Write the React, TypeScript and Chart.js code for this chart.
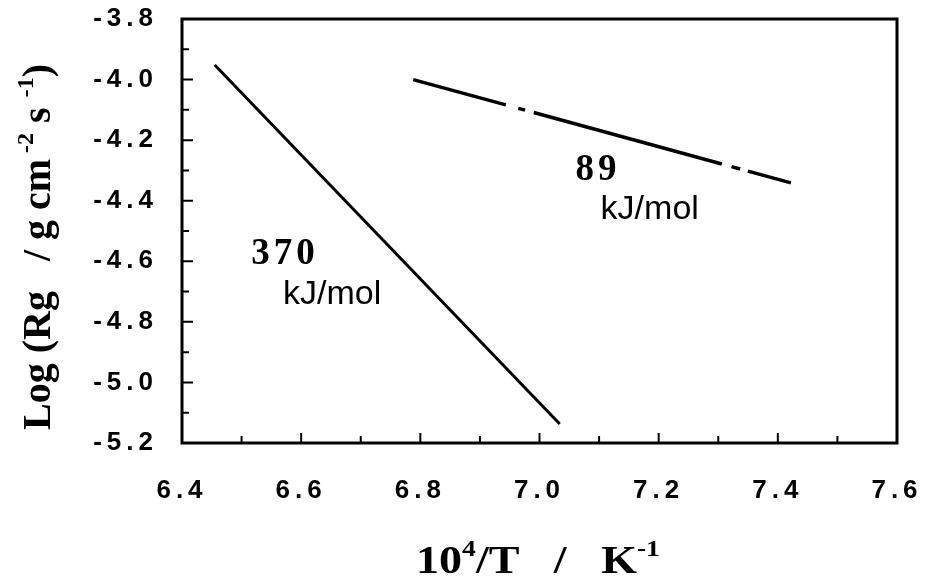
import React, { useEffect, useRef } from "react";
import { Chart, registerables } from "chart.js";

Chart.register(...registerables);

// ---- data ----
const steepX = [6.455, 7.034];
const steepY = [-3.952, -5.137];
const shallowX = [6.788, 7.422];
const shallowY = [-4.0, -4.341];

const xMin = 6.4;
const xMax = 7.6;
const yMin = -5.2;
const yMax = -3.8;
const tickStep = 0.1;

const annotTexts = ["370", "kJ/mol", "89", "kJ/mol"];
const annotX = [6.573, 6.652, 7.098, 7.185];
const annotY = [-4.579, -4.711, -4.299, -4.431];
const annotBold = [true, false, true, false];

const xTitleParts = [
  { t: "10", sup: false },
  { t: "4", sup: true },
  { t: "/T   /   K", sup: false },
  { t: "-1", sup: true },
];
const yTitleParts = [
  { t: "Log (Rg   / g cm", sup: false },
  { t: " -2", sup: true },
  { t: " s ", sup: false },
  { t: "-1", sup: true },
  { t: ")", sup: false },
];

const isMajor = (v: number) => Math.round(v * 10) % 2 === 0;

function drawRich(ctx: CanvasRenderingContext2D, parts: { t: string; sup: boolean }[], size: number) {
  const big = `bold ${size}px 'Liberation Serif', 'Times New Roman', serif`;
  const small = `bold ${Math.round(size * 0.6)}px 'Liberation Serif', 'Times New Roman', serif`;
  let total = 0;
  const widths: number[] = [];
  for (const p of parts) {
    ctx.font = p.sup ? small : big;
    const w = ctx.measureText(p.t).width;
    widths.push(w);
    total += w;
  }
  let x = -total / 2;
  ctx.textAlign = "left";
  ctx.textBaseline = "alphabetic";
  parts.forEach((p, i) => {
    ctx.font = p.sup ? small : big;
    ctx.fillText(p.t, x, p.sup ? -size * 0.42 : 0);
    x += widths[i];
  });
}

const framePlugin = {
  id: "frame",
  beforeDraw(chart: any) {
    (chart.ctx as any).letterSpacing = "5px";
  },
  afterDraw(chart: any) {
    const ctx: CanvasRenderingContext2D = chart.ctx;
    const { left, right, top, bottom } = chart.chartArea;
    const xs = chart.scales.x;
    const ys = chart.scales.y;
    ctx.save();
    (ctx as any).letterSpacing = "0px";
    ctx.strokeStyle = "#000";
    ctx.fillStyle = "#000";
    ctx.lineWidth = 3;
    ctx.strokeRect(left, top, right - left, bottom - top);
    ctx.lineWidth = 2;
    ctx.beginPath();
    for (const t of ys.ticks) {
      if (t.value <= yMin + 1e-6 || t.value >= yMax - 1e-6) continue;
      const py = ys.getPixelForValue(t.value);
      const len = isMajor(t.value) ? 11 : 7;
      ctx.moveTo(left, py);
      ctx.lineTo(left + len, py);
    }
    for (const t of xs.ticks) {
      if (t.value <= xMin + 1e-6 || t.value >= xMax - 1e-6) continue;
      const px = xs.getPixelForValue(t.value);
      const len = isMajor(t.value) ? 10 : 7;
      ctx.moveTo(px, bottom);
      ctx.lineTo(px, bottom - len);
    }
    ctx.stroke();

    // annotations
    annotTexts.forEach((txt, i) => {
      const px = xs.getPixelForValue(annotX[i]);
      const py = ys.getPixelForValue(annotY[i]);
      ctx.textAlign = "center";
      ctx.textBaseline = "middle";
      if (annotBold[i]) {
        (ctx as any).letterSpacing = "4px";
        ctx.font = "bold 37px 'Liberation Serif', 'Times New Roman', serif";
      } else {
        (ctx as any).letterSpacing = "0px";
        ctx.font = "34px 'Liberation Sans', Arial, sans-serif";
      }
      ctx.fillText(txt, px, py);
    });
    (ctx as any).letterSpacing = "0px";

    // x title
    ctx.save();
    ctx.translate(538, 573);
    ctx.scale(1.15, 1);
    drawRich(ctx, xTitleParts, 40);
    ctx.restore();

    // y title
    ctx.save();
    ctx.translate(50, 247);
    ctx.rotate(-Math.PI / 2);
    drawRich(ctx, yTitleParts, 40);
    ctx.restore();

    ctx.restore();
  },
};

const zeroPad = (s: any) => {
  s.paddingTop = 0;
  s.paddingBottom = 0;
  s.paddingLeft = 0;
  s.paddingRight = 0;
};

export default function App() {
  const ref = useRef<HTMLCanvasElement | null>(null);
  useEffect(() => {
    if (!ref.current) return;
    const tickFont = { family: "'Liberation Sans', Arial, sans-serif", size: 26, weight: "bold" as const };
    const chart = new Chart(ref.current, {
      type: "scatter",
      data: {
        datasets: [
          {
            label: "370 kJ/mol",
            data: steepX.map((x, i) => ({ x, y: steepY[i] })),
            showLine: true,
            borderColor: "#000",
            borderWidth: 3,
            pointRadius: 0,
          },
          {
            label: "89 kJ/mol",
            data: shallowX.map((x, i) => ({ x, y: shallowY[i] })),
            showLine: true,
            borderColor: "#000",
            borderWidth: 3.5,
            pointRadius: 0,
            borderDash: [96, 13, 7, 9, 195, 10, 9, 8, 100],
          },
        ],
      },
      options: {
        animation: false,
        responsive: true,
        maintainAspectRatio: false,
        layout: { padding: { left: 0, right: 32, top: 19, bottom: 0 } },
        plugins: { legend: { display: false }, tooltip: { enabled: false } },
        scales: {
          x: {
            type: "linear",
            min: xMin,
            max: xMax,
            grid: { display: false, drawTicks: false },
            border: { display: false },
            ticks: {
              stepSize: tickStep,
              color: "#000",
              font: tickFont,
              padding: 32,
              maxRotation: 0,
              autoSkip: false,
              callback: (v: any) => (isMajor(Number(v)) ? Number(v).toFixed(1) : ""),
            },
            afterFit: (s: any) => {
              s.height = 133;
              zeroPad(s);
            },
          },
          y: {
            type: "linear",
            min: yMin,
            max: yMax,
            grid: { display: false, drawTicks: false },
            border: { display: false },
            ticks: {
              stepSize: tickStep,
              color: "#000",
              font: tickFont,
              padding: 24,
              autoSkip: false,
              callback: (v: any) => (isMajor(Number(v)) ? Number(v).toFixed(1) : ""),
            },
            afterFit: (s: any) => {
              s.width = 182;
              zeroPad(s);
            },
          },
        },
      },
      plugins: [framePlugin],
    });
    return () => chart.destroy();
  }, []);
  return (
    <div style={{ position: "fixed", left: 0, top: 0, width: 929, height: 576, background: "#fff" }}>
      <canvas ref={ref} />
    </div>
  );
}
